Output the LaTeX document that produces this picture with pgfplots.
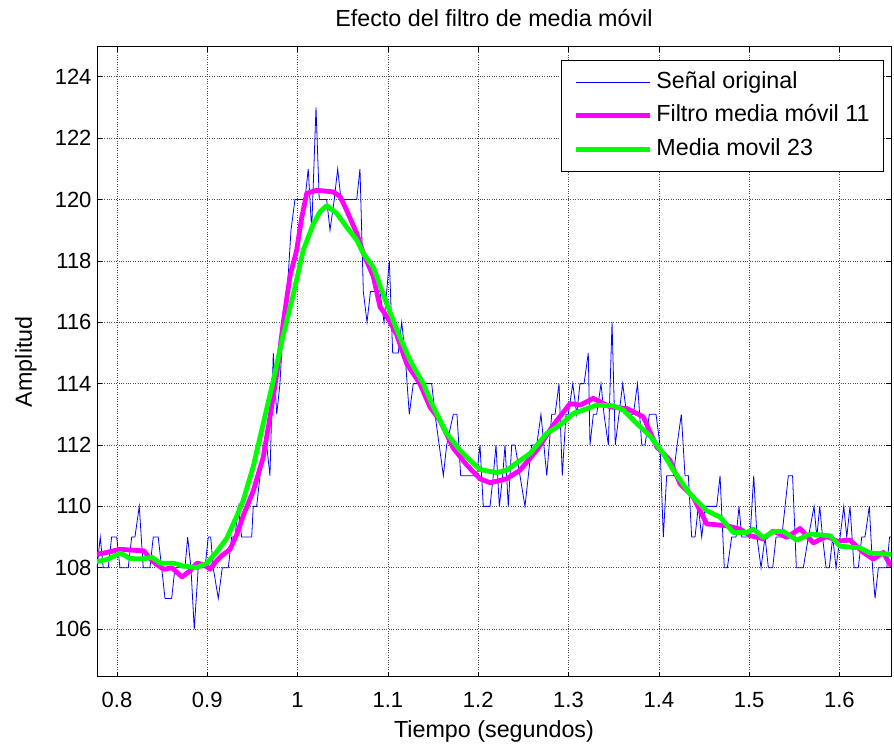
\documentclass[border=0pt]{standalone}
\usepackage{pgfplots}
\pgfplotsset{compat=1.18}
\usepackage{fontspec}
\setmainfont{Liberation Sans}
\definecolor{mblue}{rgb}{0,0,1}
\definecolor{mmag}{rgb}{1,0,1}
\definecolor{mgreen}{rgb}{0,1,0}
\begin{document}
\begin{tikzpicture}
\path[use as bounding box] (0,0) rectangle (894bp,-745bp);
\begin{axis}[
  at={(97bp,-676.7bp)}, anchor=south west,
  width=794bp, height=630bp, scale only axis,
  xmin=0.7779, xmax=1.6571, ymin=104.45, ymax=124.98,
  xtick={0.8,0.9,1,1.1,1.2,1.3,1.4,1.5,1.6},
  xticklabels={0.8,0.9,1,1.1,1.2,1.3,1.4,1.5,1.6},
  ytick={106,108,110,112,114,116,118,120,122,124},
  /pgf/number format/assume math mode=true,
  tick label style={font=\fontsize{22bp}{26bp}\selectfont},
  xticklabel style={yshift=-12bp},
  yticklabel style={xshift=-2bp},
  label style={font=\fontsize{23.3bp}{28bp}\selectfont},
  title style={font=\fontsize{23.3bp}{28bp}\selectfont, at={(0.5,1)}, anchor=base, yshift=14bp},
  xlabel={Tiempo (segundos)},
  xlabel style={at={(0.5,0)}, anchor=base, yshift=-60.3bp},
  ylabel={Amplitud},
  ylabel style={at={(0,0.5)}, anchor=base, rotate=0, yshift=65bp},
  title={Efecto del filtro de media móvil},
  grid=major, grid style={dotted, black!70, line width=0.6bp},
  tick align=inside, major tick length=5bp,
  tick style={black, line width=0.6bp},
  axis line style={line width=0.8bp},
  legend cell align=left,
  legend image code/.code={\draw[#1] (0bp,0bp) -- (74bp,0bp);},
  legend style={at={(0.9912,0.9789)}, anchor=north east, draw=black, line width=0.8bp,
    font=\fontsize{23.3bp}{28bp}\selectfont, row sep=9.5bp, column sep=2bp,
    nodes={text height=17bp, text depth=5bp, inner ysep=1bp},
    inner xsep=12bp, inner ysep=10bp},
]
\addplot[mblue, line width=0.8bp] coordinates {
(0.7779,108) (0.7815,109) (0.7848,108) (0.7904,108) (0.7941,109) (0.7997,109) (0.8033,108) (0.8125,108) (0.8163,109) (0.8199,109) (0.8247,110) (0.8291,108) (0.8365,108) (0.8402,109) (0.8457,109) (0.8495,108) (0.8532,107) (0.8606,107) (0.8642,108) (0.8753,108) (0.8783,109) (0.8819,108) (0.8856,106) (0.8900,108) (0.8975,108) (0.9011,109) (0.9038,109) (0.9066,108) (0.9122,107) (0.9166,108) (0.9233,108) (0.9270,109) (0.9307,109) (0.9343,110) (0.9381,109) (0.9418,109) (0.9492,109) (0.9509,110) (0.9547,110) (0.9584,111) (0.9620,112) (0.9658,112) (0.9694,111) (0.9731,115) (0.9769,113) (0.9805,114) (0.9842,116) (0.9886,117) (0.9927,119) (0.9971,120) (1.0045,120) (1.0082,120) (1.0118,121) (1.0156,119) (1.0204,123) (1.0240,120) (1.0322,120) (1.0359,119) (1.0406,120) (1.0444,121) (1.0481,120) (1.0655,120) (1.0691,121) (1.0728,117) (1.0769,116) (1.0807,117) (1.0857,117) (1.0913,117) (1.0957,116) (1.1016,118) (1.1053,115) (1.1115,115) (1.1153,116) (1.1189,115) (1.1237,113) (1.1281,114) (1.1485,114) (1.1522,113) (1.1614,111) (1.1651,112) (1.1724,113) (1.1765,113) (1.1806,111) (1.1983,111) (1.2020,112) (1.2056,110) (1.2131,110) (1.2167,111) (1.2197,112) (1.2234,110) (1.2271,111) (1.2297,112) (1.2333,110) (1.2371,112) (1.2408,112) (1.2463,111) (1.2518,110) (1.2592,112) (1.2648,112) (1.2695,113) (1.2759,111) (1.2814,113) (1.2851,113) (1.2895,114) (1.2931,111) (1.2972,113) (1.2998,113) (1.3047,114) (1.3091,113) (1.3127,114) (1.3172,114) (1.3219,115) (1.3238,112) (1.3275,113) (1.3312,113) (1.3360,114) (1.3393,113) (1.3441,112) (1.3482,116) (1.3518,112) (1.3559,113) (1.3600,114) (1.3644,113) (1.3718,113) (1.3764,114) (1.3811,112) (1.3847,112) (1.3895,113) (1.3969,113) (1.4013,112) (1.4050,109) (1.4087,111) (1.4161,111) (1.4202,112) (1.4249,113) (1.4290,111) (1.4327,111) (1.4364,109) (1.4401,109) (1.4437,110) (1.4475,109) (1.4512,110) (1.4641,110) (1.4678,111) (1.4725,108) (1.4759,108) (1.4807,109) (1.4855,109) (1.4888,110) (1.4918,109) (1.4966,109) (1.5010,109) (1.5051,111) (1.5087,109) (1.5132,108) (1.5176,109) (1.5213,108) (1.5261,108) (1.5298,109) (1.5361,109) (1.5398,110) (1.5434,111) (1.5481,111) (1.5523,108) (1.5600,108) (1.5656,109) (1.5719,110) (1.5749,109) (1.5782,110) (1.5813,109) (1.5852,108) (1.5888,108) (1.5926,109) (1.5962,108) (1.6007,109) (1.6048,110) (1.6081,109) (1.6117,110) (1.6162,108) (1.6209,108) (1.6247,109) (1.6283,109) (1.6331,110) (1.6367,108) (1.6394,107) (1.6431,108) (1.6524,108) (1.6555,109) (1.6605,109)
};
\addlegendentry{Señal original}
\addplot[mmag, line width=4.8bp, line join=round] coordinates {
(0.7779,108.44) (0.7889,108.5) (0.8033,108.6) (0.8299,108.55) (0.8365,108.3) (0.8443,108.1) (0.8520,107.95) (0.8609,108.0) (0.8720,107.7) (0.8808,107.9) (0.8886,108.15) (0.8963,108.1) (0.9030,107.95) (0.9096,108.2) (0.9163,108.4) (0.9251,108.6) (0.9329,109.1) (0.9399,109.7) (0.9509,110.5) (0.9620,111.6) (0.9694,112.9) (0.9769,114.3) (0.9842,116.0) (0.9916,117.5) (0.9990,118.35) (1.0045,119.4) (1.0101,120.2) (1.0211,120.3) (1.0395,120.25) (1.0470,120.1) (1.0536,119.7) (1.0580,119.4) (1.0655,118.9) (1.0728,118.25) (1.0838,117.5) (1.0913,116.5) (1.0987,116.2) (1.1097,115.6) (1.1208,114.65) (1.1355,114.0) (1.1466,113.24) (1.1577,112.8) (1.1724,111.9) (1.1873,111.35) (1.2020,110.9) (1.2131,110.77) (1.2316,110.9) (1.2463,111.18) (1.2648,111.83) (1.2832,112.65) (1.3017,113.35) (1.3127,113.3) (1.3275,113.52) (1.3460,113.24) (1.3644,113.19) (1.3828,112.92) (1.3977,111.94) (1.4124,111.5) (1.4235,110.74) (1.4382,110.3) (1.4530,109.43) (1.4752,109.37) (1.4899,109.26) (1.5010,109.05) (1.5157,108.94) (1.5268,109.2) (1.5416,108.99) (1.5564,109.28) (1.5711,108.81) (1.5859,109.03) (1.5970,108.87) (1.6117,108.9) (1.6265,108.5) (1.6375,108.28) (1.6486,108.5) (1.6560,108.1) (1.6605,108.2)
};
\addlegendentry{Filtro media móvil 11}
\addplot[mgreen, line width=4.8bp, line join=round] coordinates {
(0.7779,108.2) (0.7889,108.27) (0.8037,108.48) (0.8147,108.3) (0.8296,108.29) (0.8388,108.34) (0.8480,108.15) (0.8628,108.15) (0.8739,108.05) (0.8886,108.01) (0.8997,108.15) (0.9107,108.53) (0.9218,108.97) (0.9329,109.7) (0.9399,110.2) (0.9509,111.3) (0.9620,112.7) (0.9731,114.1) (0.9842,115.6) (0.9952,116.9) (1.0063,118.35) (1.0174,119.2) (1.0248,119.6) (1.0322,119.8) (1.0433,119.55) (1.0544,119.1) (1.0655,118.68) (1.0728,118.24) (1.0838,117.8) (1.0987,116.6) (1.1134,115.5) (1.1245,114.76) (1.1392,114.0) (1.1503,113.24) (1.1651,112.38) (1.1798,111.83) (1.1909,111.5) (1.2020,111.2) (1.2205,111.1) (1.2316,111.18) (1.2426,111.42) (1.2574,111.72) (1.2759,112.38) (1.2906,112.65) (1.3053,113.03) (1.3164,113.14) (1.3312,113.3) (1.3496,113.28) (1.3607,113.14) (1.3755,112.7) (1.3902,112.3) (1.4050,111.72) (1.4161,111.18) (1.4345,110.4) (1.4530,109.86) (1.4678,109.65) (1.4825,109.15) (1.4973,109.15) (1.5047,109.26) (1.5157,108.98) (1.5268,109.18) (1.5379,109.18) (1.5527,108.9) (1.5674,109.1) (1.5896,109.04) (1.6007,108.7) (1.6228,108.65) (1.6339,108.48) (1.6605,108.43)
};
\addlegendentry{Media movil 23}
\end{axis}
\end{tikzpicture}
\end{document}
